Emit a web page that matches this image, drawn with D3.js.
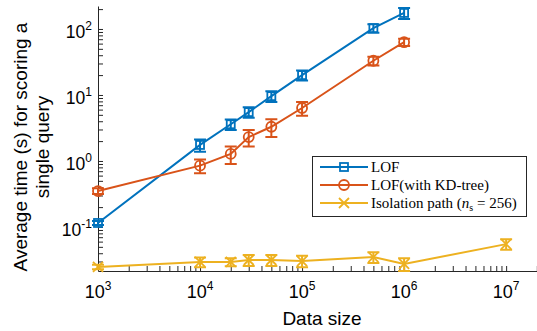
<!DOCTYPE html>
<html>
<head>
<meta charset="utf-8">
<script src="https://cdn.jsdelivr.net/npm/d3@7"></script>
<style>
body { margin: 0; background: #fff; }
svg { display: block; }
.label { font-family: "Liberation Sans", Arial, sans-serif; font-size: 19px; fill: #000; }
.legend text { font-family: "Liberation Serif", "Times New Roman", serif; font-size: 15px; fill: #000; }
</style>
</head>
<body>
<svg width="537" height="331"></svg>
<script>
// data
const sizesLOF = [1e3, 1e4, 2e4, 3e4, 5e4, 1e5, 5e5, 1e6];
const lofTime = [0.115, 1.75, 3.6, 5.5, 9.6, 20, 103, 175];
const lofErr = [0.008, 0.37, 0.65, 1.0, 1.8, 3.4, 15, 33];

const kdTime = [0.35, 0.85, 1.28, 2.3, 3.3, 6.35, 33, 63];
const kdErr = [0.035, 0.2, 0.38, 0.64, 1.0, 1.5, 5, 8];

const sizesIso = [1e3, 1e4, 2e4, 3e4, 5e4, 1e5, 5e5, 1e6, 1e7];
const isoTime = [0.0248, 0.0295, 0.0295, 0.0316, 0.0316, 0.0305, 0.035, 0.0275, 0.055];
const isoErr = [0.002, 0.005, 0.004, 0.006, 0.006, 0.006, 0.0065, 0.006, 0.01];

const xMajor = [1e3, 1e4, 1e5, 1e6, 1e7];
const yMajor = [1e-1, 1e0, 1e1, 1e2];
const xExp = ["3", "4", "5", "6", "7"];
const yExp = ["-1", "0", "1", "2"];

const series = [
  { name: "LOF", x: sizesLOF, y: lofTime, e: lofErr, color: "#0072BD", marker: "square" },
  { name: "LOF(with KD-tree)", x: sizesLOF, y: kdTime, e: kdErr, color: "#D95319", marker: "circle" },
  { name: "Isolation path", x: sizesIso, y: isoTime, e: isoErr, color: "#EDB120", marker: "cross" }
];

const svg = d3.select("svg");
const plotLeft = 98, plotRight = 550, plotTop = 6, plotBottom = 271;

const x = d3.scaleLog().domain([1e3, Math.pow(10, 7.43)]).range([plotLeft, plotRight]);
const y = d3.scaleLog().domain([Math.pow(10, -1.667), Math.pow(10, 2.348)]).range([plotBottom, plotTop]);

// axes (ticks pointing inward)
const xTicks = x.ticks().filter(d => d >= 1e3 && d <= x.domain()[1]);
const yTicks = y.ticks();

const xAxis = svg.append("g")
  .attr("transform", `translate(0,${plotBottom})`)
  .call(d3.axisBottom(x).tickValues(xTicks).tickSize(-5).tickSizeOuter(0).tickFormat(""));
const yAxis = svg.append("g")
  .attr("transform", `translate(${plotLeft},0)`)
  .call(d3.axisLeft(y).tickValues(yTicks).tickSize(-5).tickSizeOuter(0).tickFormat(""));

[xAxis, yAxis].forEach(a => {
  a.select(".domain").attr("stroke", "#262626").attr("stroke-width", 1);
  a.selectAll(".tick line").attr("stroke", "#262626");
});

// tick labels with superscripts
xMajor.forEach((v, i) => {
  const t = svg.append("text")
    .attr("x", x(v)).attr("y", 298).attr("text-anchor", "middle")
    .style("font-family", "'Liberation Sans', Arial, sans-serif").style("font-size", "18px");
  t.append("tspan").text("10");
  t.append("tspan").attr("dy", -8).style("font-size", "12px").text(xExp[i]);
});
yMajor.forEach((v, i) => {
  const t = svg.append("text")
    .attr("x", 92).attr("y", y(v) + 9).attr("text-anchor", "end")
    .style("font-family", "'Liberation Sans', Arial, sans-serif").style("font-size", "17.5px");
  t.append("tspan").text("10");
  t.append("tspan").attr("dy", -8).style("font-size", "12px").text(yExp[i]);
});

// axis titles
svg.append("text").attr("class", "label")
  .attr("x", 322).attr("y", 325).attr("text-anchor", "middle")
  .text("Data size");

const yl = svg.append("text").attr("class", "label")
  .attr("transform", "translate(0,147) rotate(-90)")
  .attr("text-anchor", "middle");
yl.append("tspan").attr("x", 0).attr("y", 27).text("Average time (s) for scoring a");
yl.append("tspan").attr("x", 0).attr("y", 49).text("single query");

// markers
function drawMarker(g, type, cx, cy, color) {
  if (type === "square") {
    g.append("rect").attr("x", cx - 4).attr("y", cy - 4).attr("width", 8).attr("height", 8)
      .attr("fill", "none").attr("stroke", color).attr("stroke-width", 1.8);
  } else if (type === "circle") {
    g.append("circle").attr("cx", cx).attr("cy", cy).attr("r", 5)
      .attr("fill", "none").attr("stroke", color).attr("stroke-width", 1.8);
  } else {
    g.append("path").attr("d", `M${cx - 5},${cy - 5}L${cx + 5},${cy + 5}M${cx - 5},${cy + 5}L${cx + 5},${cy - 5}`)
      .attr("stroke", color).attr("stroke-width", 1.8);
  }
}

const line = d3.line().x(d => x(d[0])).y(d => y(d[1]));

series.forEach(s => {
  const g = svg.append("g");
  const pts = s.x.map((v, i) => [v, s.y[i], s.e[i]]);
  g.append("path").datum(pts).attr("d", line)
    .attr("fill", "none").attr("stroke", s.color).attr("stroke-width", 2);
  pts.forEach(p => {
    const px = x(p[0]);
    const y1 = y(p[1] + p[2]), y0 = y(p[1] - p[2]);
    g.append("path")
      .attr("d", `M${px},${y0}L${px},${y1}M${px - 6},${y0}L${px + 6},${y0}M${px - 6},${y1}L${px + 6},${y1}`)
      .attr("fill", "none").attr("stroke", s.color).attr("stroke-width", 2);
    drawMarker(g, s.marker, px, y(p[1]), s.color);
  });
});

// legend
const lg = svg.append("g").attr("class", "legend");
lg.append("rect").attr("x", 312.5).attr("y", 156.5).attr("width", 214).attr("height", 60)
  .attr("fill", "#fff").attr("stroke", "#262626").attr("stroke-width", 1);
const rows = [167, 185, 203];
series.forEach((s, i) => {
  const ry = rows[i];
  lg.append("line").attr("x1", 320).attr("x2", 368).attr("y1", ry).attr("y2", ry)
    .attr("stroke", s.color).attr("stroke-width", 2);
  drawMarker(lg, s.marker, 344, ry, s.color);
  const t = lg.append("text").attr("x", 371).attr("y", ry + 5);
  if (i < 2) {
    t.text(s.name);
  } else {
    t.append("tspan").text(s.name + " (");
    t.append("tspan").style("font-style", "italic").text("n");
    t.append("tspan").attr("dy", 3).style("font-size", "10px").text("s");
    t.append("tspan").attr("dy", -3).text(" = 256)");
  }
});
</script>
</body>
</html>
